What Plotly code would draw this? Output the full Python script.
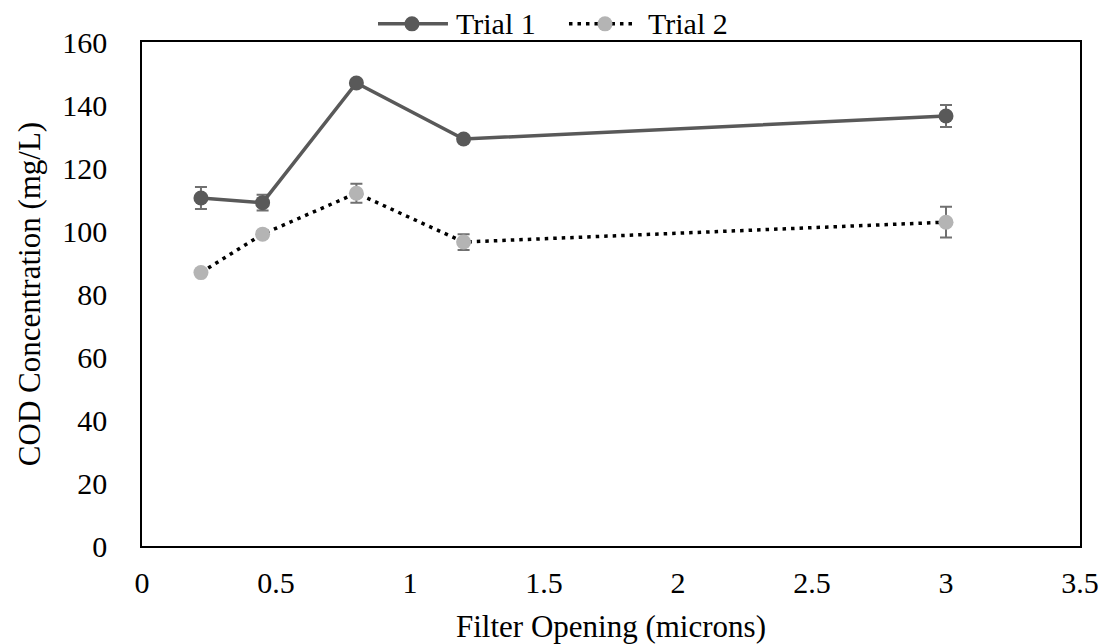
import plotly.graph_objects as go

x_vals = [0.22, 0.45, 0.8, 1.2, 3.0]
trial1 = [110.5, 109.0, 147.0, 129.2, 136.5]
trial1_err = [3.5, 2.5, 1.0, 1.0, 3.5]
trial2 = [86.8, 99.0, 112.0, 96.5, 102.8]
trial2_err = [1.0, 1.0, 3.0, 2.5, 4.9]
series_names = ["Trial 1", "Trial 2"]

FONT = "Liberation Serif, Times New Roman, serif"
C1 = "#595959"
C2 = "#b4b4b4"
ERRC = "#707070"

fig = go.Figure()
fig.add_trace(go.Scatter(
    x=x_vals, y=trial1, name=series_names[0], mode="lines+markers",
    line=dict(color=C1, width=3.5),
    marker=dict(color=C1, size=15),
    error_y=dict(type="data", array=trial1_err, color=ERRC, thickness=2, width=6),
    showlegend=False,
))
fig.add_trace(go.Scatter(
    x=x_vals, y=trial2, name=series_names[1], mode="lines+markers",
    line=dict(color="#000000", width=3.5, dash="3.5px,5px"),
    marker=dict(color=C2, size=15),
    error_y=dict(type="data", array=trial2_err, color=ERRC, thickness=2, width=6),
    showlegend=False,
))

# manual legend (paper coordinates) above the plot area
ly = 1.036
legend_items = [
    dict(x0=0.2516, x1=0.3262, mx=0.2878, tx=0.3326, lc=C1, dash="solid", mc=C1, name=series_names[0]),
    dict(x0=0.4552, x1=0.5256, mx=0.4936, tx=0.5373, lc="#000000", dash="3.5px,5px", mc=C2, name=series_names[1]),
]
shapes = []
annotations = []
for it in legend_items:
    shapes.append(dict(type="line", xref="paper", yref="paper", x0=it["x0"], x1=it["x1"], y0=ly, y1=ly,
                       line=dict(color=it["lc"], width=3.5, dash=it["dash"])))
    shapes.append(dict(type="circle", xref="paper", yref="paper", xsizemode="pixel", ysizemode="pixel",
                       xanchor=it["mx"], yanchor=ly, x0=-7.5, x1=7.5, y0=-7.5, y1=7.5,
                       fillcolor=it["mc"], line=dict(width=0)))
    annotations.append(dict(xref="paper", yref="paper", x=it["tx"], y=ly, xanchor="left", yanchor="middle",
                            text=it["name"], showarrow=False, font=dict(family=FONT, size=30, color="black")))

fig.update_layout(
    width=1101, height=644,
    margin=dict(l=142, r=21, t=42, b=98),
    paper_bgcolor="white", plot_bgcolor="white",
    font=dict(family=FONT, size=30, color="black"),
    showlegend=False,
    shapes=shapes, annotations=annotations,
)
fig.update_xaxes(
    range=[0, 3.5], dtick=0.5, tick0=0, showgrid=False, zeroline=False,
    showline=True, linecolor="black", linewidth=1.5, mirror=True,
    ticks="", ticklabelstandoff=9, automargin=False,
    tickfont=dict(size=30),
    title=dict(text="Filter Opening (microns)", standoff=29, font=dict(size=31)),
)
fig.update_yaxes(
    range=[0, 160], dtick=20, showgrid=False, zeroline=False,
    showline=True, linecolor="black", linewidth=1.5, mirror=True,
    ticks="", ticklabelstandoff=27, automargin=False,
    tickfont=dict(size=30),
    title=dict(text="COD Concentration (mg/L)", standoff=12, font=dict(size=31)),
)

fig.write_html("out.html", config={"displayModeBar": False},
               post_script="document.body.style.margin='0px';document.body.style.overflow='hidden';")
